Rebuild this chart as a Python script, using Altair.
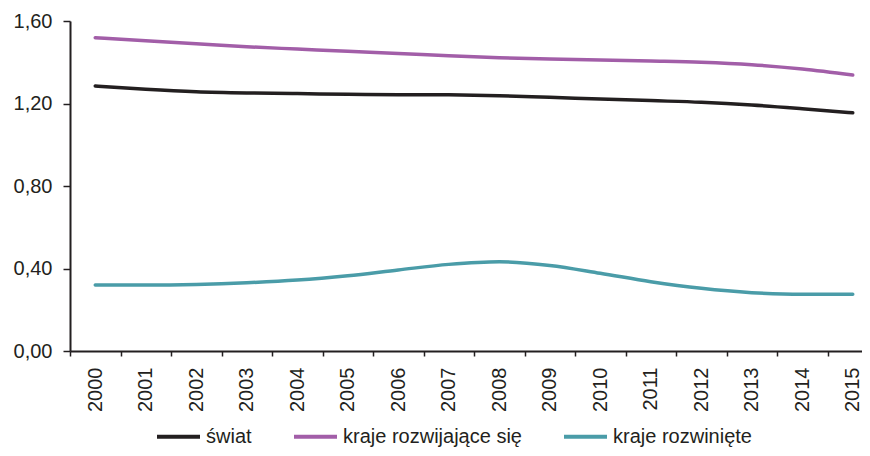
import altair as alt
import pandas as pd

years = [str(y) for y in range(2000, 2016)]
swiat = [1.285, 1.269, 1.257, 1.251, 1.248, 1.245, 1.243, 1.242, 1.238, 1.230,
         1.222, 1.214, 1.206, 1.193, 1.175, 1.155]
rozwijajace = [1.519, 1.504, 1.490, 1.475, 1.464, 1.453, 1.443, 1.431, 1.422, 1.416,
               1.411, 1.406, 1.400, 1.388, 1.367, 1.338]
rozwiniete = [0.320, 0.320, 0.323, 0.331, 0.344, 0.365, 0.393, 0.420, 0.433, 0.415,
              0.377, 0.336, 0.304, 0.283, 0.275, 0.275]

series_names = ["świat", "kraje rozwijające się", "kraje rozwinięte"]
series_colors = ["#231f20", "#a25ea8", "#4a9ca8"]

rows = []
for name, vals in zip(series_names, [swiat, rozwijajace, rozwiniete]):
    for y, v in zip(years, vals):
        rows.append({"rok": y, "wartosc": v, "seria": name, "ord": series_names.index(name)})
df = pd.DataFrame(rows)

FONT = "Liberation Sans"
DARK = "#231f20"

chart = alt.Chart(df).mark_line(
    interpolate="monotone", strokeWidth=3.5, strokeCap="round"
).encode(
    x=alt.X("rok:O", sort=years,
            scale=alt.Scale(type="band", paddingInner=0, paddingOuter=0),
            axis=alt.Axis(title=None, labelAngle=-90, labelFontSize=20, labelFont=FONT,
                          labelColor=DARK, domainColor=DARK, domainWidth=2, tickColor=DARK,
                          tickWidth=1.5, tickSize=5, tickBand="extent", labelPadding=11,
                          grid=False, labelBaseline="middle", labelAlign="right")),
    y=alt.Y("wartosc:Q",
            scale=alt.Scale(domain=[0, 1.6], nice=False, zero=True),
            axis=alt.Axis(title=None, values=[0, 0.4, 0.8, 1.2, 1.6],
                          labelExpr="replace(format(datum.value, '.2f'), '.', ',')",
                          labelFontSize=20, labelFont=FONT, labelColor=DARK,
                          domainColor=DARK, domainWidth=2, tickColor=DARK, tickWidth=1.5,
                          tickSize=7, labelPadding=11, grid=False)),
    color=alt.Color("seria:N",
                    scale=alt.Scale(domain=series_names, range=series_colors),
                    legend=alt.Legend(orient="none", legendX=85, legendY=392,
                                      direction="horizontal", title=None,
                                      symbolType="stroke", symbolSize=1849,
                                      symbolStrokeWidth=4, labelFontSize=20,
                                      labelFont=FONT, labelColor=DARK, labelOffset=4,
                                      columnPadding=34, padding=0, labelLimit=400)),
    detail="seria:N",
    order="ord:Q",
).properties(
    width=808, height=330,
    autosize=alt.AutoSizeParams(type="none"),
    padding={"left": 62, "top": 13, "right": -16, "bottom": 97},
).configure_view(stroke=None)

chart.save("out.html", embed_options={"renderer": "svg", "actions": False})
